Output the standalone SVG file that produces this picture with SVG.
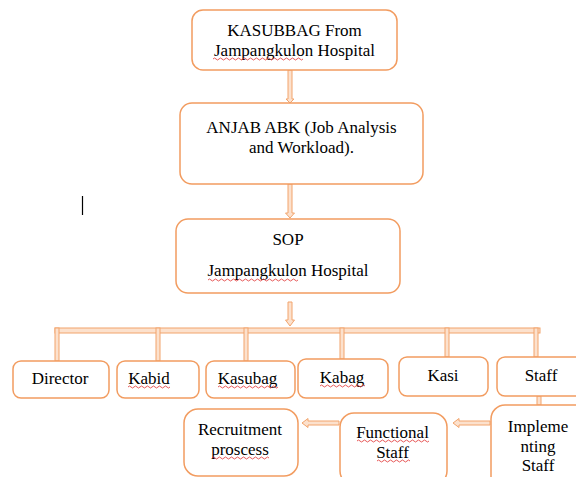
<svg xmlns="http://www.w3.org/2000/svg" width="576" height="477" viewBox="0 0 576 477">
<style>
.box{fill:#fff;stroke:#F29C60;stroke-width:1.5}
.con{fill:#FCE1CD;stroke:#F2A46C;stroke-width:1}
.sq{fill:none;stroke:#E03030;stroke-width:0.8}
</style>
<rect width="576" height="477" fill="#fff"/>
<g id="connectors">
<polygon class="con" points="288,70 292,70 292,99 294,99 290,103 286,99 288,99"/>
<polygon class="con" points="288,184 292,184 292,213 294.5,213 290,218 285.5,213 288,213"/>
<polygon class="con" points="288,302 292,302 292,320 294.5,320 290,326 285.5,320 288,320"/>
<rect class="con" x="55" y="328" width="485" height="5"/>
<rect class="con" x="55" y="328" width="4" height="33"/>
<rect class="con" x="156" y="328" width="4" height="33"/>
<rect class="con" x="244" y="328" width="4" height="33"/>
<rect class="con" x="340" y="328" width="4" height="31"/>
<rect class="con" x="445" y="328" width="4" height="29"/>
<rect class="con" x="534" y="328" width="4" height="29"/>
<rect class="con" x="537" y="396" width="4" height="9"/>
<polygon class="con" points="490,421 459,421 459,418.5 453,423 459,427.5 459,425 490,425"/>
<polygon class="con" points="339,421 308,421 308,418.5 302,423 308,427.5 308,425 339,425"/>
</g>
<g id="n-kasubbag">
<rect class="box" x="192" y="10" width="205" height="60" rx="11"/>
<text font-family="Liberation Serif" font-size="17" text-anchor="middle" x="294.5" y="36">KASUBBAG From</text>
<text font-family="Liberation Serif" font-size="17" text-anchor="middle" x="294.5" y="56">Jampangkulon Hospital</text>
<path class="sq" d="M213,59 q1.5,-2 3,0 t3,0 t3,0 t3,0 t3,0 t3,0 t3,0 t3,0 t3,0 t3,0 t3,0 t3,0 t3,0 t3,0 t3,0 t3,0 t3,0 t3,0 t3,0 t3,0 t3,0 t3,0 t3,0 t3,0 t3,0 t3,0 t3,0 t3,0 t3,0 t3,0"/>
</g>
<g id="n-anjab">
<rect class="box" x="180" y="103" width="243" height="81" rx="12"/>
<text font-family="Liberation Serif" font-size="17" text-anchor="middle" x="301.5" y="133">ANJAB ABK (Job Analysis</text>
<text font-family="Liberation Serif" font-size="17" text-anchor="middle" x="301.5" y="153">and Workload).</text>
</g>
<g id="n-sop">
<rect class="box" x="176" y="219" width="224" height="74" rx="12"/>
<text font-family="Liberation Serif" font-size="17" text-anchor="middle" x="288" y="245">SOP</text>
<text font-family="Liberation Serif" font-size="17" text-anchor="middle" x="288" y="276">Jampangkulon Hospital</text>
<path class="sq" d="M208,280 q1.5,-2 3,0 t3,0 t3,0 t3,0 t3,0 t3,0 t3,0 t3,0 t3,0 t3,0 t3,0 t3,0 t3,0 t3,0 t3,0 t3,0 t3,0 t3,0 t3,0 t3,0 t3,0 t3,0 t3,0 t3,0 t3,0 t3,0 t3,0 t3,0 t3,0 t3,0"/>
</g>
<g id="n-director">
<rect class="box" x="13" y="361" width="96" height="37" rx="8"/>
<text font-family="Liberation Serif" font-size="17" text-anchor="middle" x="60" y="384">Director</text>
</g>
<g id="n-kabid">
<rect class="box" x="117" y="361" width="82" height="37" rx="8"/>
<text font-family="Liberation Serif" font-size="17" text-anchor="middle" x="149" y="384">Kabid</text>
<path class="sq" d="M128,387 q1.5,-2 3,0 t3,0 t3,0 t3,0 t3,0 t3,0 t3,0 t3,0 t3,0 t3,0 t3,0 t3,0 t3,0 t3,0"/>
</g>
<g id="n-kasubag">
<rect class="box" x="206" y="361" width="89" height="37" rx="8"/>
<text font-family="Liberation Serif" font-size="17" text-anchor="middle" x="247.5" y="384">Kasubag</text>
<path class="sq" d="M218,387 q1.5,-2 3,0 t3,0 t3,0 t3,0 t3,0 t3,0 t3,0 t3,0 t3,0 t3,0 t3,0 t3,0 t3,0 t3,0 t3,0 t3,0 t3,0 t3,0 t3,0 t3,0"/>
</g>
<g id="n-kabag">
<rect class="box" x="298" y="359" width="90" height="39" rx="8"/>
<text font-family="Liberation Serif" font-size="17" text-anchor="middle" x="342" y="383">Kabag</text>
<path class="sq" d="M320,386 q1.5,-2 3,0 t3,0 t3,0 t3,0 t3,0 t3,0 t3,0 t3,0 t3,0 t3,0 t3,0 t3,0 t3,0 t3,0 t3,0"/>
</g>
<g id="n-kasi">
<rect class="box" x="399" y="357" width="89" height="39" rx="8"/>
<text font-family="Liberation Serif" font-size="17" text-anchor="middle" x="443" y="381">Kasi</text>
</g>
<g id="n-staff">
<rect class="box" x="497" y="357" width="90" height="39" rx="8"/>
<text font-family="Liberation Serif" font-size="17" text-anchor="middle" x="541" y="381">Staff</text>
</g>
<g id="n-implementing">
<rect class="box" x="491" y="405" width="110" height="90" rx="14"/>
<text font-family="Liberation Serif" font-size="17" text-anchor="middle" x="538" y="432">Impleme</text>
<text font-family="Liberation Serif" font-size="17" text-anchor="middle" x="538" y="452">nting</text>
<text font-family="Liberation Serif" font-size="17" text-anchor="middle" x="538" y="471">Staff</text>
</g>
<g id="n-functional">
<rect class="box" x="340" y="413" width="107" height="72" rx="14"/>
<text font-family="Liberation Serif" font-size="17" text-anchor="middle" x="392.5" y="438">Functional</text>
<text font-family="Liberation Serif" font-size="17" text-anchor="middle" x="392.5" y="458">Staff</text>
<path class="sq" d="M357,441 q1.5,-2 3,0 t3,0 t3,0 t3,0 t3,0 t3,0 t3,0 t3,0 t3,0 t3,0 t3,0 t3,0 t3,0 t3,0 t3,0 t3,0 t3,0 t3,0 t3,0 t3,0 t3,0 t3,0 t3,0 t3,0"/>
<path class="sq" d="M377,461 q1.5,-2 3,0 t3,0 t3,0 t3,0 t3,0 t3,0 t3,0 t3,0 t3,0 t3,0 t3,0"/>
</g>
<g id="n-recruitment">
<rect class="box" x="184" y="409" width="114" height="67" rx="14"/>
<text font-family="Liberation Serif" font-size="17" text-anchor="middle" x="240" y="435">Recruitment</text>
<text font-family="Liberation Serif" font-size="17" text-anchor="middle" x="240" y="455">proscess</text>
<path class="sq" d="M212,458 q1.5,-2 3,0 t3,0 t3,0 t3,0 t3,0 t3,0 t3,0 t3,0 t3,0 t3,0 t3,0 t3,0 t3,0 t3,0 t3,0 t3,0 t3,0 t3,0 t3,0"/>
</g>
<line x1="82.5" y1="196" x2="82.5" y2="215" stroke="#000" stroke-width="1.2"/>
</svg>
